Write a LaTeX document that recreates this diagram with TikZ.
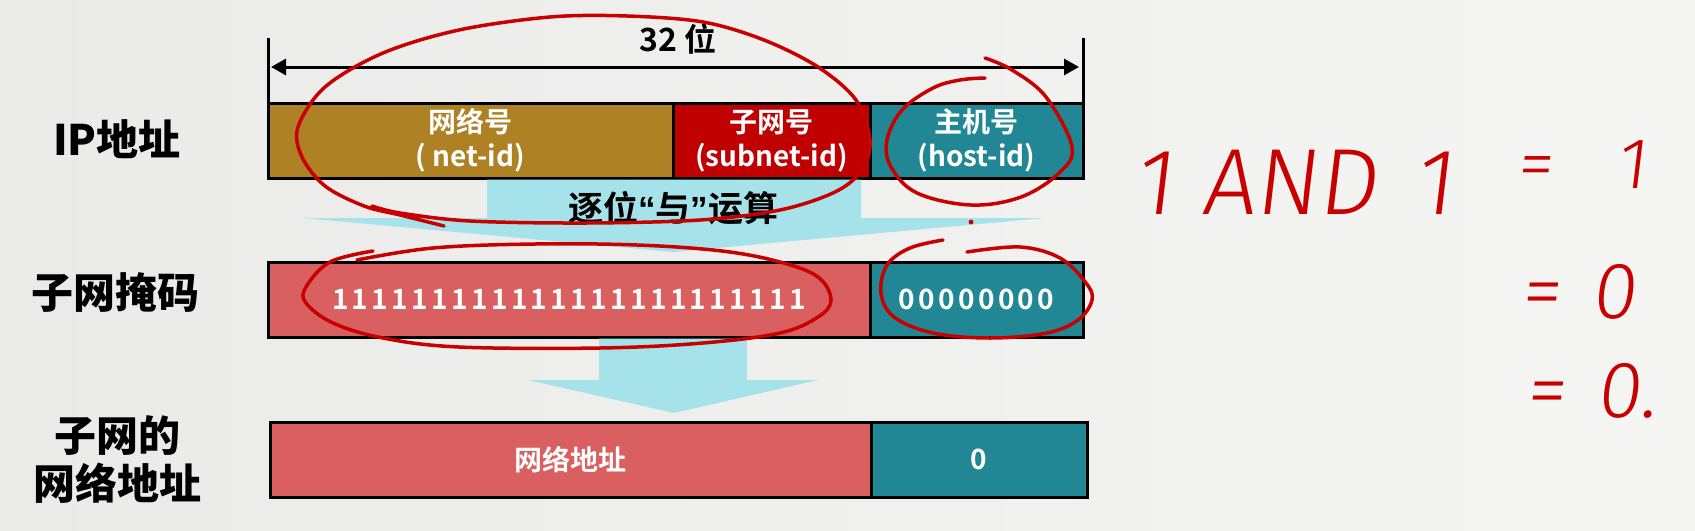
\documentclass[tikz,border=0pt]{standalone}
\usepackage{fontspec}
\setmainfont{Noto Sans CJK SC}[BoldFont=* Bold]
\newfontfamily\heavyfont{Noto Sans CJK SC Black}
\newfontfamily\quotefont{Liberation Sans}[BoldFont=* Bold]
\newfontfamily\handfont{Fira Sans Light}[FakeSlant=0.12]
\usepackage{tikz}
\usetikzlibrary{calc}
\usetikzlibrary{positioning}
\usetikzlibrary{arrows.meta}

\definecolor{bgleft}{RGB}{234,234,233}
\definecolor{bgright}{RGB}{245,245,243}
\definecolor{netcol}{RGB}{173,129,36}
\definecolor{subcol}{RGB}{192,0,0}
\definecolor{hostcol}{RGB}{33,135,148}
\definecolor{maskcol}{RGB}{217,95,96}
\definecolor{flowcol}{RGB}{166,226,234}
\definecolor{inkred}{RGB}{200,0,0}

\tikzset{
  cell/.style={draw=black,line width=1.5pt,minimum height=37.5pt,inner sep=0pt,outer sep=0pt,
    text=white,align=center,font=\bfseries\fontsize{14}{17}\selectfont},
  bitcell/.style={cell,font=\bfseries\fontsize{14}{17}\selectfont\addfontfeature{LetterSpace=12}},
  rowlabel/.style={align=center,font=\heavyfont\fontsize{21}{24}\selectfont},
  dimline/.style={line width=1.5pt,{Triangle[length=7.5pt,width=8pt]}-{Triangle[length=7.5pt,width=8pt]}},
  flow/.style={fill=flowcol},
  ink/.style={draw=inkred,line width=1.75pt,line cap=round,line join=round},
  hand/.style={text=inkred,inner sep=0pt,anchor=base west,font=\handfont\fontsize{40}{40}\selectfont}
}

\begin{document}
\begin{tikzpicture}[x=0.5pt,y=-0.5pt]
\fill[left color=bgleft,right color=bgright] (0,0) rectangle (1695,530);
\useasboundingbox (0,0) rectangle (1695,530);

\node[rowlabel] (lip) at (117,139) {IP地址};
\node[rowlabel] (lmask) at (116,292) {子网掩码};
\node[rowlabel] (lres) at (117,459) {子网的\\网络地址};

% ip address
\node[cell,fill=netcol,minimum width=202.5pt,anchor=north west] (net) at (268,103) {网络号\\( net-id)};
\node[cell,fill=subcol,minimum width=98.5pt,right=0pt of net] (subnet) {子网号\\(subnet-id)};
\node[cell,fill=hostcol,minimum width=106.5pt,right=0pt of subnet] (host) {主机号\\(host-id)};

% mask
\node[bitcell,fill=maskcol,minimum width=301pt,anchor=north west] (ones) at (268,262) {111111111111111111111111};
\node[bitcell,fill=hostcol,minimum width=106.5pt,right=0pt of ones] (zeros) {00000000};

% result
\node[cell,fill=maskcol,minimum width=300.5pt,anchor=north west] (netaddr) at (270,422) {网络地址};
\node[cell,fill=hostcol,minimum width=108pt,right=0pt of netaddr] (hostzero) {0};

\coordinate (ltick) at (268,38);
\coordinate (rtick) at (1083,38);
\draw[line width=1.5pt] (net.north west) -- (ltick);
\draw[line width=1.5pt] (host.north east) -- (rtick);
\draw[dimline] ($(ltick)+(3,29)$) -- ($(rtick)+(-4,29)$);
\node[font=\bfseries\fontsize{16}{16}\selectfont] (bits) at (678,39) {32 位};

\fill[flow] ($(net.south east)+(-186,1.5)$) -- ++(374,0) -- ++(0,38.5) -- ++(184,0)
  -- ($(net.south east)+(0,74)$) -- ++(-370,-34) -- ++(184,0) -- cycle;
\node[font=\bfseries\fontsize{17.5}{18}\selectfont] (op) at ($(net.south east)+(0,30)$) {逐位{\quotefont“}与{\quotefont”}运算};
\fill[flow] ($(net.south east |- ones.south)+(-74,1.5)$) -- ++(148,0) -- ++(0,41.5) -- ++(71,0)
  -- ($(net.south east |- ones.south)+(1,76)$) -- ++(-146,-33) -- ++(71,0) -- cycle;

% red pen
\draw[ink] plot[smooth,tension=0.55] coordinates {(444,226) (400,215) (364,206) (325,186) (302,157) (298,127) (325,87) (383,53) (459,30) (550,17) (627,16) (703,22) (764,40) (818,67) (856,100) (870,140) (862,170) (835,192) (780,210) (700,220) (586,223) (470,221) (400,213) (372,206)};
\draw[ink] plot[smooth,tension=0.6] coordinates {(985,58) (1012,70) (1046,97) (1072,147) (1059,173) (1021,197) (971,205) (917,193) (891,167) (887,140) (902,110) (933,88) (960,80) (985,78)};
\draw[ink] plot[smooth,tension=0.6] coordinates {(373,251) (330,262) (306,287) (306,303) (333,323) (383,338) (459,347) (600,348) (703,343) (780,333) (818,317) (831,300) (818,277) (780,262) (722,251) (637,245) (535,244) (433,248) (357,260)};
\draw[ink] plot[smooth,tension=0.6] coordinates {(967,252) (1020,247) (1060,258) (1086,283) (1092,300) (1078,320) (1047,333) (990,338) (933,333) (894,317) (881,293) (887,265) (910,248) (943,240)};
\fill[inkred] (971,222) circle (1.2pt);

\node[hand,font=\handfont\fontsize{47}{47}\selectfont] (and) at (1134,214) {1\hspace{0.3em}AND\hspace{0.4em}1};
\node[hand,font=\handfont\fontsize{36}{36}\selectfont] (eq1) at (1516,188) {=\hspace{0.9em}1};
\node[hand] (eq2) at (1520,318) {=\hspace{0.4em}0};
\node[hand] (eq3) at (1525,417) {=\hspace{0.4em}0.};
\end{tikzpicture}
\end{document}
